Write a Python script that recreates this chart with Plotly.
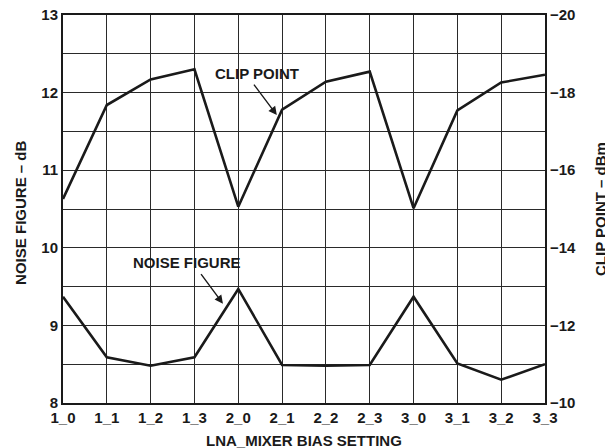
import plotly.graph_objects as go

settings = ["1_0", "1_1", "1_2", "1_3", "2_0", "2_1", "2_2", "2_3", "3_0", "3_1", "3_2", "3_3"]
noise_figure_db = [9.37, 8.59, 8.48, 8.59, 9.47, 8.49, 8.48, 8.49, 9.37, 8.51, 8.30, 8.50]
clip_point_dbm = [-15.26, -17.68, -18.34, -18.60, -15.06, -17.56, -18.28, -18.54,
                  -15.02, -17.54, -18.26, -18.46]

FONT = "Liberation Sans, Arial, sans-serif"
INK = "#1a1a1a"
GRID = "#2a2a2a"

fig = go.Figure()
fig.add_trace(go.Scatter(
    x=settings, y=noise_figure_db, mode="lines",
    line=dict(color=INK, width=2.6), name="NOISE FIGURE", yaxis="y",
))
fig.add_trace(go.Scatter(
    x=settings, y=clip_point_dbm, mode="lines",
    line=dict(color=INK, width=2.6), name="CLIP POINT", yaxis="y2",
))

# ── labels with arrows ─────────────────────────────────────────────────────
label_font = dict(size=15, color=INK, family=FONT, weight="bold")
fig.add_annotation(x=4.43, y=12.24, xref="x", yref="y", text="CLIP POINT",
                   showarrow=False, font=label_font)
fig.add_annotation(x=4.88, y=11.71, xref="x", yref="y", text="",
                   showarrow=True, ax=-24, ay=-32, arrowhead=2, arrowsize=1.2,
                   arrowwidth=1.4, arrowcolor=INK)
fig.add_annotation(x=2.83, y=9.81, xref="x", yref="y", text="NOISE FIGURE",
                   showarrow=False, font=label_font)
fig.add_annotation(x=3.65, y=9.28, xref="x", yref="y", text="",
                   showarrow=True, ax=-23, ay=-31, arrowhead=2, arrowsize=1.2,
                   arrowwidth=1.4, arrowcolor=INK)

# ── axis titles (placed by hand) ───────────────────────────────────────────
title_font = dict(size=15, color=INK, family=FONT, weight="bold")
fig.add_annotation(x=0, y=0.49, xref="paper", yref="paper", xshift=-42,
                   xanchor="center", yanchor="middle",
                   text="NOISE FIGURE – dB", textangle=-90, showarrow=False, font=title_font)
fig.add_annotation(x=1, y=0.5, xref="paper", yref="paper", xshift=55,
                   xanchor="center", yanchor="middle",
                   text="CLIP POINT – dBm", textangle=-90, showarrow=False, font=title_font)
fig.add_annotation(x=0.5, y=0, xref="paper", yref="paper", yshift=-37,
                   xanchor="center", yanchor="middle",
                   text="LNA_MIXER BIAS SETTING", showarrow=False, font=title_font)

tick_font = dict(size=15, color=INK, family=FONT, weight="bold")
axis_common = dict(
    showline=True, linecolor=INK, linewidth=2,
    ticks="", tickfont=tick_font, zeroline=False, automargin=False,
    ticklabeloverflow="allow",
)

fig.update_layout(
    width=613, height=448,
    margin=dict(l=55, r=76, t=7, b=53),
    paper_bgcolor="white", plot_bgcolor="white",
    showlegend=False,
    font=dict(family=FONT, color=INK),
    xaxis=dict(
        **axis_common,
        type="category", range=[0, 11], mirror=True,
        showgrid=True, gridcolor=GRID, gridwidth=1,
    ),
    yaxis=dict(
        **axis_common,
        range=[8, 13], dtick=1, mirror=True,
        showgrid=True, gridcolor=GRID, gridwidth=1,
        minor=dict(dtick=0.5, showgrid=True, gridcolor=GRID, gridwidth=1),
    ),
    yaxis2=dict(
        **axis_common,
        overlaying="y", side="right",
        range=[-10, -20], dtick=2, showgrid=False,
    ),
)

fig.write_html("out.html")
